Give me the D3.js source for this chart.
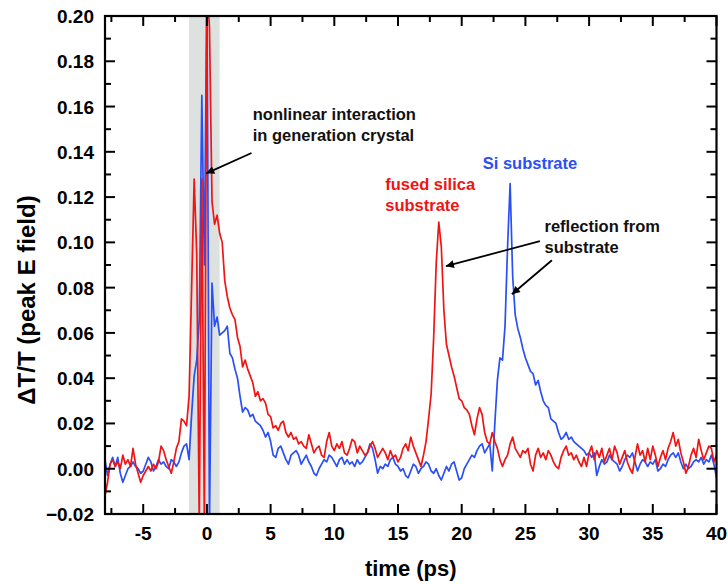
<!DOCTYPE html>
<html>
<head>
<meta charset="utf-8">
<script src="https://cdn.jsdelivr.net/npm/d3@7"></script>
<style>
body { margin: 0; background: #fff; }
text { font-family: "Liberation Sans", Arial, sans-serif; }
</style>
</head>
<body>
<div id="wrapper"></div>
<script>
// samples every 0.2 ps starting at -8 ps
var t0 = -8, dt = 0.2;

var fusedSilica = [
  -0.012, -0.006, 0.002, 0.004, 0.001,
  0.003, 0.000, 0.006, 0.002, 0.004,
  0.001, 0.009, 0.002, -0.002, -0.006,
  -0.003, -0.001, 0.001, -0.001, 0.002,
  0.000, 0.003, 0.010, 0.008, 0.004,
  0.001, -0.002, 0.003, 0.009, 0.012,
  0.022, 0.021, 0.019, 0.032, 0.080,
  0.128, 0.095, -0.025, 0.128, -0.025,
  0.215, 0.195, 0.118, 0.108, 0.112,
  0.104, 0.100, 0.083, 0.076, 0.071,
  0.068, 0.066, 0.058, 0.054, 0.045,
  0.048, 0.044, 0.041, 0.038, 0.032,
  0.034, 0.030, 0.031, 0.029, 0.024,
  0.023, 0.018, 0.019, 0.017, 0.020,
  0.021, 0.016, 0.014, 0.016, 0.013,
  0.014, 0.011, 0.012, 0.010, 0.009,
  0.015, 0.011, 0.007, 0.009, 0.010,
  0.006, 0.005, 0.012, 0.016, 0.010,
  0.008, 0.011, 0.009, 0.012, 0.007,
  0.006, 0.009, 0.013, 0.012, 0.007,
  0.010, 0.008, 0.006, 0.007, 0.010,
  0.012, 0.009, 0.005, 0.007, 0.009,
  0.007, 0.004, 0.008, 0.005, 0.006,
  0.003, 0.005, 0.009, 0.011, 0.008,
  0.014, 0.010, 0.007, 0.004, 0.001,
  0.006, 0.012, 0.022, 0.033, 0.058,
  0.091, 0.109, 0.098, 0.070, 0.055,
  0.050, 0.045, 0.041, 0.036, 0.031,
  0.030, 0.027, 0.026, 0.024, 0.019,
  0.015, 0.022, 0.027, 0.024, 0.016,
  0.012, 0.011, 0.016, 0.012, 0.009,
  0.004, 0.001, 0.004, 0.006, 0.011,
  0.014, 0.009, 0.007, 0.005, 0.008,
  0.007, 0.009, 0.002, -0.001, 0.006,
  0.009, 0.005, 0.007, 0.004, 0.008,
  0.006, 0.003, 0.001, 0.000, 0.005,
  0.008, 0.010, 0.006, 0.007, 0.004,
  0.006, 0.003, 0.001, 0.005, 0.001,
  0.007, 0.010, 0.004, 0.008, 0.005,
  0.009, 0.003, 0.006, 0.009, 0.004,
  0.010, 0.007, 0.002, 0.005, 0.008,
  0.003, 0.000, -0.002, 0.005, 0.011,
  0.006, 0.008, 0.003, 0.009, 0.004,
  0.010, 0.006, 0.001, 0.005, 0.008,
  0.004, 0.009, 0.012, 0.016, 0.010,
  0.013, 0.007, 0.003, -0.002, 0.001,
  0.006, 0.009, 0.005, 0.013, 0.008,
  0.004, 0.007, 0.010, 0.009, 0.003,
  0.006
];

var siSubstrate = [
  0.004, -0.003, 0.002, 0.005, 0.001,
  0.005, -0.002, -0.006, -0.003, 0.000,
  0.001, 0.003, 0.001, 0.000, -0.002,
  -0.001, 0.002, 0.005, 0.003, -0.001,
  0.001, 0.004, 0.002, 0.003, 0.001,
  0.000, 0.004, 0.003, 0.001, 0.003,
  0.007, 0.010, 0.011, 0.004, 0.024,
  0.041, 0.048, 0.066, 0.165, 0.090,
  0.215, -0.025, 0.082, 0.063, 0.067,
  0.059, 0.060, 0.061, 0.063, 0.051,
  0.049, 0.044, 0.040, 0.032, 0.025,
  0.027, 0.026, 0.023, 0.024, 0.021,
  0.020, 0.019, 0.017, 0.014, 0.016,
  0.012, 0.006, 0.005, 0.009, 0.010,
  0.007, 0.004, 0.002, 0.006, 0.007,
  0.008, 0.006, 0.002, 0.004, 0.006,
  0.003, 0.001, -0.002, -0.003, 0.000,
  0.002, 0.004, 0.003, 0.006, 0.005,
  0.003, 0.001, 0.004, 0.005, 0.002,
  0.004, 0.002, 0.003, 0.001, 0.004,
  0.002, 0.003, 0.005, 0.007, 0.011,
  0.009, 0.004, -0.002, 0.001, 0.000,
  0.002, 0.001, 0.004, 0.005, 0.002,
  0.001, -0.001, 0.000, -0.003, -0.004,
  -0.001, 0.002, 0.001, -0.002, 0.000,
  0.001, 0.003, 0.002, -0.001, -0.002,
  0.000, -0.003, -0.005, -0.002, 0.001,
  -0.001, 0.002, 0.003, -0.001, -0.005,
  -0.004, 0.000, 0.002, 0.004, 0.006,
  0.005, 0.008, 0.010, 0.011, 0.007,
  0.009, 0.011, -0.001, 0.020, 0.039,
  0.049, 0.048, 0.063, 0.098, 0.126,
  0.085, 0.068, 0.062, 0.058, 0.053,
  0.049, 0.046, 0.043, 0.042, 0.037,
  0.039, 0.034, 0.030, 0.028, 0.027,
  0.022, 0.021, 0.020, 0.016, 0.013,
  0.014, 0.016, 0.013, 0.014, 0.012,
  0.011, 0.010, 0.009, 0.008, 0.006,
  0.007, 0.005, 0.007, -0.003, 0.001,
  0.004, 0.002, 0.003, 0.006, 0.004,
  0.003, 0.002, -0.001, 0.001, 0.004,
  0.006, 0.005, 0.007, 0.003, -0.001,
  0.002, 0.004, 0.003, 0.001, 0.003,
  0.002, 0.004, -0.001, 0.000, 0.002,
  0.001, 0.004, 0.006, 0.007, 0.005,
  0.007, 0.003, 0.000, 0.002, 0.000,
  0.001, 0.003, 0.004, 0.003, 0.005,
  0.002, 0.004, 0.003, 0.006, 0.002,
  -0.004
];

var xTicks = [-5, 0, 5, 10, 15, 20, 25, 30, 35, 40];
var xMinor = [-7.5, -2.5, 2.5, 7.5, 12.5, 17.5, 22.5, 27.5, 32.5, 37.5];
var yTicks = [-0.02, 0.00, 0.02, 0.04, 0.06, 0.08, 0.10, 0.12, 0.14, 0.16, 0.18, 0.20];
var yMinor = [-0.01, 0.01, 0.03, 0.05, 0.07, 0.09, 0.11, 0.13, 0.15, 0.17, 0.19];
var band = [-1.4, 1.0];

var W = 728, H = 584;
var pL = 105, pR = 716.5, pT = 16, pB = 514;

var svg = d3.select('#wrapper')
            .append('svg')
            .attr('width', W)
            .attr('height', H);

var x = d3.scaleLinear().domain([-8, 40]).range([pL, pR]);
var y = d3.scaleLinear().domain([-0.02, 0.20]).range([pB, pT]);

var defs = svg.append('defs');
defs.append('clipPath').attr('id', 'plot')
    .append('rect')
    .attr('x', pL).attr('y', pT)
    .attr('width', pR - pL).attr('height', pB - pT);

// grey band around time zero
svg.append('rect')
   .attr('x', x(band[0]))
   .attr('y', pT)
   .attr('width', x(band[1]) - x(band[0]))
   .attr('height', pB - pT)
   .attr('fill', '#dde2e0');

var line = d3.line()
             .x(function(d, i) { return x(t0 + i * dt); })
             .y(function(d) { return y(d); });

var curves = svg.append('g').attr('clip-path', 'url(#plot)');
curves.append('path')
      .datum(siSubstrate)
      .attr('d', line)
      .attr('fill', 'none')
      .attr('stroke', '#2a4ff5')
      .attr('stroke-width', 1.7)
      .attr('stroke-linejoin', 'round');
curves.append('path')
      .datum(fusedSilica)
      .attr('d', line)
      .attr('fill', 'none')
      .attr('stroke', '#f01414')
      .attr('stroke-width', 1.7)
      .attr('stroke-linejoin', 'round');

// axes: ticks inside on all four sides
function tickAxis(axis, major, minor) {
  var g = svg.append('g');
  var len = 10, mlen = 6;
  var sides = {
    bottom: function(sel, v, l) { sel.attr('x1', x(v)).attr('x2', x(v)).attr('y1', pB).attr('y2', pB - l); },
    top:    function(sel, v, l) { sel.attr('x1', x(v)).attr('x2', x(v)).attr('y1', pT).attr('y2', pT + l); },
    left:   function(sel, v, l) { sel.attr('y1', y(v)).attr('y2', y(v)).attr('x1', pL).attr('x2', pL + l); },
    right:  function(sel, v, l) { sel.attr('y1', y(v)).attr('y2', y(v)).attr('x1', pR).attr('x2', pR - l); }
  };
  axis.forEach(function(side) {
    g.selectAll(null).data(major).enter().append('line')
     .each(function(v) { sides[side](d3.select(this), v, len); });
    g.selectAll(null).data(minor).enter().append('line')
     .each(function(v) { sides[side](d3.select(this), v, mlen); });
  });
  g.selectAll('line').attr('stroke', '#000').attr('stroke-width', 2);
}
tickAxis(['bottom', 'top'], xTicks, xMinor);
tickAxis(['left', 'right'], yTicks, yMinor);

svg.append('rect')
   .attr('x', pL).attr('y', pT)
   .attr('width', pR - pL).attr('height', pB - pT)
   .attr('fill', 'none')
   .attr('stroke', '#000')
   .attr('stroke-width', 2.2);

// tick labels
svg.append('g').selectAll('text')
   .data(xTicks).enter().append('text')
   .attr('x', function(d) { return x(d); })
   .attr('y', 540)
   .attr('text-anchor', 'middle')
   .style('font-size', '19px')
   .style('font-weight', 'bold')
   .text(function(d) { return d; });

svg.append('g').selectAll('text')
   .data(yTicks).enter().append('text')
   .attr('x', 94)
   .attr('y', function(d) { return y(d) + 7; })
   .attr('text-anchor', 'end')
   .style('font-size', '19px')
   .style('font-weight', 'bold')
   .text(function(d) { return d3.format('.2f')(d); });

// axis titles
svg.append('text')
   .attr('x', (pL + pR) / 2)
   .attr('y', 576)
   .attr('text-anchor', 'middle')
   .style('font-size', '22px')
   .style('font-weight', 'bold')
   .text('time (ps)');

svg.append('text')
   .attr('transform', 'translate(35,300) rotate(-90)')
   .attr('text-anchor', 'middle')
   .style('font-size', '24px')
   .style('font-weight', 'bold')
   .text('\u0394T/T (peak E field)');

// annotations
function label(lines, tx, vy, colour) {
  var tEl = svg.append('text')
               .attr('x', x(tx))
               .attr('y', y(vy))
               .attr('fill', colour)
               .style('font-size', '16.5px')
               .style('font-weight', 'bold');
  lines.forEach(function(s, i) {
    tEl.append('tspan').attr('x', x(tx)).attr('dy', i ? 21 : 0).text(s);
  });
}
label(['nonlinear interaction', 'in generation crystal'], 3.6, 0.154, '#111');
label(['fused silica', 'substrate'], 14.0, 0.123, '#f01414');
label(['Si substrate'], 21.65, 0.1325, '#2a4ff5');
label(['reflection from', 'substrate'], 26.5, 0.1045, '#111');

defs.append('marker')
    .attr('id', 'head')
    .attr('viewBox', '0 0 10 10')
    .attr('refX', 10).attr('refY', 5)
    .attr('markerWidth', 11).attr('markerHeight', 8)
    .attr('markerUnits', 'userSpaceOnUse')
    .attr('orient', 'auto')
    .append('path')
    .attr('d', 'M0,0L10,5L0,10Z')
    .attr('fill', '#000');

function arrow(ta, va, tb, vb) {
  svg.append('line')
     .attr('x1', x(ta)).attr('y1', y(va))
     .attr('x2', x(tb)).attr('y2', y(vb))
     .attr('stroke', '#000')
     .attr('stroke-width', 1.8)
     .attr('marker-end', 'url(#head)');
}
arrow(3.5, 0.1395, -0.05, 0.1305);
arrow(26.14, 0.1005, 18.76, 0.0895);
arrow(27.08, 0.0921, 23.94, 0.0771);
</script>
</body>
</html>
